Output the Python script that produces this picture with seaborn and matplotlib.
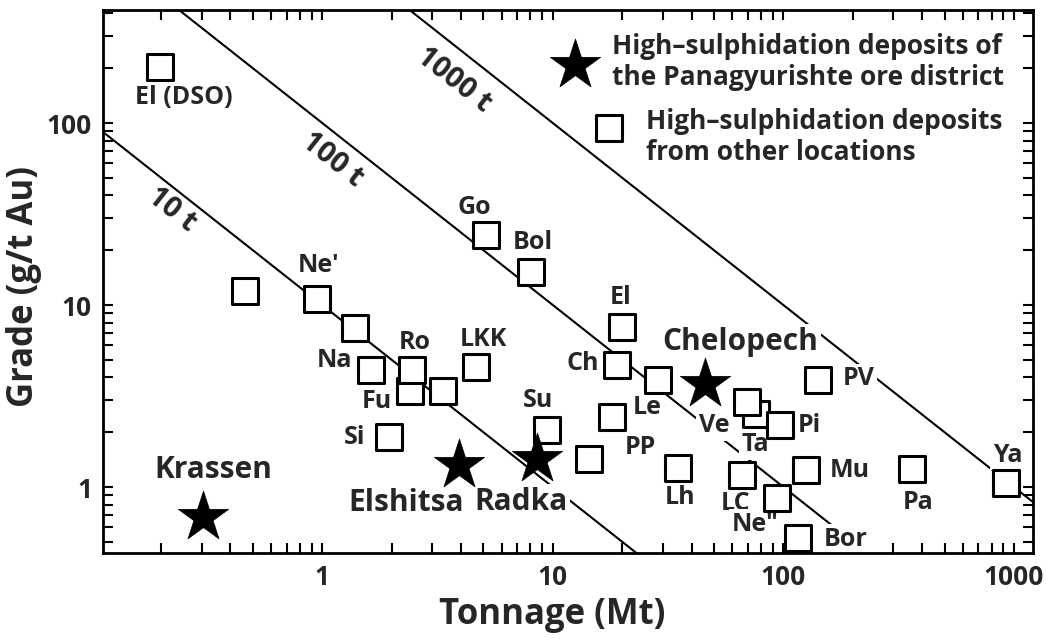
import numpy as np
import pandas as pd
import matplotlib.pyplot as plt
import matplotlib.ticker as mticker
import seaborn as sns

# high-sulphidation deposits of the Panagyurishte ore district (stars)
pan_names = ['Krassen', 'Elshitsa', 'Radka', 'Chelopech']
pan_tonnage = [0.305, 3.93, 8.57, 45.9]
pan_grade = [0.68, 1.32, 1.43, 3.68]

# high-sulphidation deposits from other locations (squares)
oth_names = ['El (DSO)', '', "Ne'", '', 'Na', 'Fu', 'Ro', '', 'LKK', 'Si', 'Su', 'PP',
             'Go', 'Bol', 'El', 'Ch', '', 'Le', 'Lh', 'Ta', 'Ve', 'Pi', 'LC', 'Ne"',
             'Bor', 'Mu', 'PV', 'Pa', 'Ya']
oth_tonnage = [0.198, 0.463, 0.951, 1.39, 1.62, 2.41, 2.46, 3.35, 4.66, 1.95, 9.46, 14.3,
               5.15, 8.07, 20.0, 18.9, 28.7, 18.1, 35.0, 76.4, 69.8, 97.1, 66.4, 94.2,
               116, 125, 142, 363, 927]
oth_grade = [203, 11.9, 10.8, 7.47, 4.39, 3.35, 4.39, 3.37, 4.56, 1.88, 2.06, 1.43,
             24.2, 15.2, 7.57, 4.68, 3.87, 2.42, 1.27, 2.52, 2.93, 2.19, 1.16, 0.87,
             0.525, 1.24, 3.87, 1.26, 1.05]

# lines of equal contained gold (t Au)
gold_contours = [10, 100, 1000]
contour_labels = ['10 t', '100 t', '1000 t']

# label placement (offset points / data coords)
pan_offsets = {'Krassen': (7, 34), 'Elshitsa': (-38, -27), 'Radka': (-12, -31),
               'Chelopech': (25, 30)}
oth_offsets = {'El (DSO)': (17, -22), "Ne'": (1, 24), 'Na': (-26, 7), 'Ro': (2, 20),
               'Fu': (-24, -7), 'LKK': (5, 20), 'Si': (-25, 0), 'Su': (-7, 21),
               'PP': (37, 8), 'Go': (-9, 20), 'Bol': (1, 21), 'El': (-1, 21),
               'Ch': (-24, 1), 'Le': (25, 7), 'Lh': (1, -21), 'Ve': (-24, -17),
               'Ta': (-1, -22), 'Pi': (21, 0), 'LC': (-5, -20), 'Ne"': (-16, -19),
               'Bor': (34, -1), 'Mu': (32, 0), 'PV': (29, 1), 'Pa': (4, -24),
               'Ya': (1, 20)}
contour_label_pos = [(0.223, 33.3), (1.10, 62.6), (3.70, 172)]

sns.set_style('ticks')
plt.rcParams['font.family'] = ['Open Sans', 'DejaVu Sans']

fig, ax = plt.subplots(figsize=(10.46, 6.39), dpi=100)
fig.subplots_adjust(left=0.0985, right=0.9876, bottom=0.1346, top=0.9844)

df_pan = pd.DataFrame({'name': pan_names, 'tonnage': pan_tonnage, 'grade': pan_grade})
df_oth = pd.DataFrame({'name': oth_names, 'tonnage': oth_tonnage, 'grade': oth_grade})

# contained-gold lines
x_line = np.array([0.1, 1500.0])
for c in gold_contours:
    sns.lineplot(x=x_line, y=c / x_line, color='black', lw=1.5, ax=ax, zorder=2)

sns.scatterplot(data=df_oth, x='tonnage', y='grade', marker='s', s=330,
                facecolor='white', edgecolor='black', linewidth=2.2, ax=ax, zorder=4,
                label='High\u2013sulphidation deposits\nfrom other locations')
sns.scatterplot(data=df_pan, x='tonnage', y='grade', marker='*', s=1450,
                color='black', edgecolor='black', linewidth=0.5, ax=ax, zorder=5,
                label='High\u2013sulphidation deposits of\nthe Panagyurishte ore district')

ax.set_xscale('log')
ax.set_yscale('log')
ax.set_xlim(0.112, 1210)
ax.set_ylim(0.434, 418)

# white boxes behind labels break the lines, like in the original
box = dict(boxstyle='square,pad=0.1', fc='white', ec='none')
for _, r in df_oth.iterrows():
    if r['name'] == '':
        continue
    ax.annotate(r['name'], (r['tonnage'], r['grade']), xytext=oth_offsets[r['name']],
                textcoords='offset points', ha='center', va='center', fontsize=18,
                fontweight='bold', zorder=2.3, bbox=box)
for _, r in df_pan.iterrows():
    ax.annotate(r['name'], (r['tonnage'], r['grade']), xytext=pan_offsets[r['name']],
                textcoords='offset points', ha='center', va='center', fontsize=21.5,
                fontweight='bold', zorder=2.3, bbox=box)

for (px, py), lab in zip(contour_label_pos, contour_labels):
    ax.text(px, py, lab, rotation=-38.3, ha='center', va='center', fontsize=21,
            fontweight='bold', rotation_mode='anchor')

# legend: two blocks, placed separately like the original
h, l = ax.get_legend_handles_labels()
leg_kw = dict(frameon=False, prop={'weight': 'bold', 'size': 19}, handletextpad=0.4,
              borderpad=0, borderaxespad=0, loc='upper left')
leg1 = ax.legend([h[1]], [l[1]], bbox_to_anchor=(0.479, 0.958), **leg_kw)
ax.add_artist(leg1)
ax.legend([h[0]], [l[0]], bbox_to_anchor=(0.5157, 0.8195), handleheight=2.6, **leg_kw)

fmt = mticker.FuncFormatter(lambda v, p: '{:g}'.format(v))
ax.xaxis.set_major_formatter(fmt)
ax.yaxis.set_major_formatter(fmt)
ax.xaxis.set_minor_formatter(mticker.NullFormatter())
ax.yaxis.set_minor_formatter(mticker.NullFormatter())
ax.tick_params(which='both', direction='in', top=True, right=True, length=7,
               width=1.5, color='black')
ax.tick_params(which='major', labelsize=19, pad=8)
for t in ax.get_xticklabels() + ax.get_yticklabels():
    t.set_fontweight('bold')
for sp in ax.spines.values():
    sp.set_linewidth(2)
    sp.set_color('black')

ax.set_xlabel('Tonnage (Mt)', fontsize=25, fontweight='bold')
ax.set_ylabel('Grade (g/t Au)', fontsize=25, fontweight='bold')
ax.xaxis.set_label_coords(0.483, -0.081)
ax.yaxis.set_label_coords(-0.066, 0.49)

fig.savefig('out.png', dpi=100)
